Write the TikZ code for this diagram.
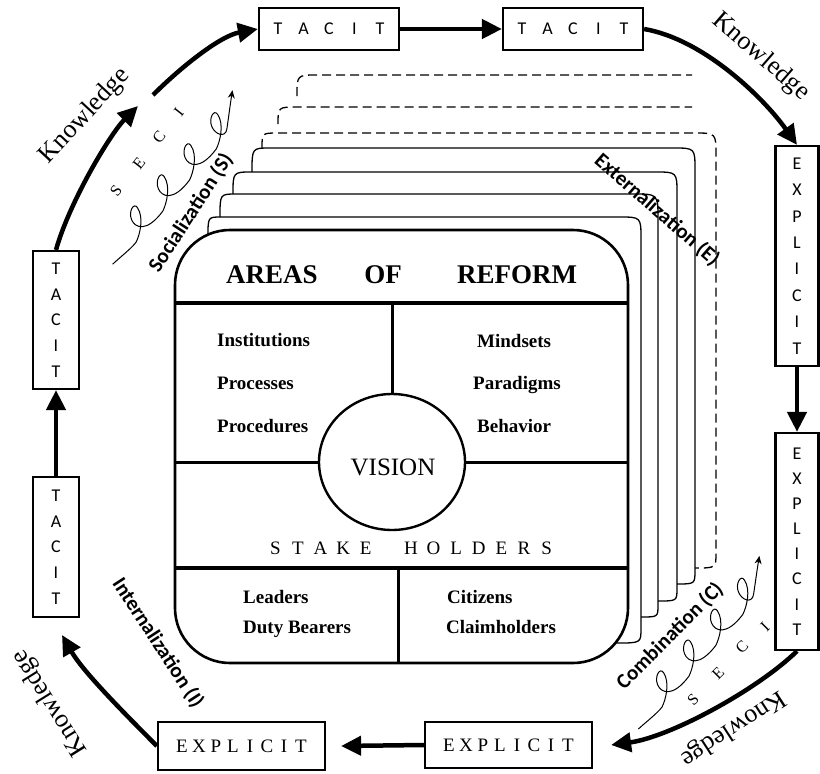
\documentclass[tikz,border=0pt]{standalone}
\usepackage{fontspec}
\setmainfont{Liberation Serif}
\newfontfamily\labelfont{Carlito}
\usetikzlibrary{arrows.meta,shapes.geometric}

% evenly spaced capitals: each letter sits in a box of fixed width
\newcommand\spacedletters[2]{\def\spacedwd{#1}\spacedloop#2\relax}
\def\spacedloop#1{\ifx#1\relax\else\makebox[\spacedwd]{#1}\expandafter\spacedloop\fi}

\tikzset{
  kbox/.style={draw, line width=2.2pt, fill=white, inner sep=0pt},
  sansletters/.style={font=\labelfont\fontsize{18}{18}\selectfont},
  vsans/.style={align=center, font=\labelfont\fontsize{18}{#1}\selectfont},
  serifletters/.style={font=\fontsize{19}{19}\selectfont},
  bigarrow/.style={line width=4.5pt, -{Triangle[length=20pt,width=19pt]}},
  card/.style={line width=1.3pt},
  ghostcard/.style={line width=1.3pt, dash pattern=on 9pt off 5pt},
  spiral/.style={line width=1pt, -{Stealth[length=8pt,width=7pt]}},
  phase/.style={font=\labelfont\bfseries\fontsize{21}{21}\selectfont, inner sep=0pt},
  know/.style={font=\fontsize{26}{26}\selectfont, inner sep=0pt},
  seci/.style={font=\fontsize{16}{16}\selectfont, inner sep=0pt},
  heading/.style={font=\bfseries\fontsize{27}{27}\selectfont, inner sep=0pt, anchor=base},
  item/.style={font=\bfseries\fontsize{19}{19}\selectfont, inner sep=0pt, anchor=base west},
  divider/.style={line width=3pt},
  heavydivider/.style={line width=4pt},
  % a thin line with four narrow curls, ending in an arrow
  coil/.pic={
    \draw[spiral] (-50,9.6) .. controls (-38,11) and (-26,13.5) .. (-18,13)
      \foreach \b in {-18,23,64} {
        .. controls ({\b+8},11) and ({\b+24},3) .. ({\b+27},-8.5)
        .. controls ({\b+29},-15) and ({\b+18},-13) .. ({\b+14},-5)
        .. controls ({\b+10},3) and ({\b+14},15) .. ({\b+41},13)
      }
      .. controls (113,11) and (129,3) .. (132,-8.5)
      .. controls (134,-15) and (123,-13) .. (119,-5)
      .. controls (115,3) and (119,13) .. (127,8)
      .. controls (135,3) and (147,-5) .. (160,-13);
  }
}

\begin{document}
\begin{tikzpicture}[x=1pt, y=-1pt]
\fill[white] (0,0) rectangle (820,774);
\useasboundingbox (0,0) rectangle (820,774);

% stack of cards behind the central panel
\draw[ghostcard] (297,96) .. controls (297,75) .. (317,75) -- (692,75);
\draw[ghostcard] (278,124) .. controls (278,107) .. (298,107) -- (692,107);
\draw[ghostcard] (262,148) .. controls (262,133) .. (278,133) -- (694,133)
  .. controls (716,133) .. (716,155) -- (716,553) .. controls (716,568) .. (695,568);
\draw[card] (252,172) .. controls (252,148) .. (270,148) -- (673,148)
  .. controls (695,148) .. (695,170) -- (695,570) .. controls (695,584) .. (677,584);
\draw[card] (233,194) .. controls (233,172) .. (252,172) -- (655,172)
  .. controls (677,172) .. (677,194) -- (677,588) .. controls (677,601) .. (658,601);
\draw[card] (220,217) .. controls (220,194) .. (236,194) -- (633,194)
  .. controls (658,194) .. (658,219) -- (658,605) .. controls (658,617) .. (641,617);
\draw[card] (208,236) .. controls (208,217) .. (221,217) -- (619,217)
  .. controls (641,217) .. (641,239) -- (641,628) .. controls (641,643) .. (617,643);

% central panel
\node[draw, line width=2.6pt, rounded corners=55pt, fill=white,
      minimum width=453pt, minimum height=433pt, inner sep=0pt] (reform) at (401.5,446.5) {};
\node[draw, ellipse, line width=2.4pt, fill=white, minimum width=146pt,
      minimum height=136pt, inner sep=0pt] (vision) at (392,462) {};
\draw[heavydivider] (175,303) -- (628,303);
\draw[divider] (392,303) -- (vision.north);
\draw[divider] (175,462) -- (vision.west);
\draw[divider] (vision.east) -- (628,462);
\draw[heavydivider] (175,568) -- (628,568);
\draw[divider] (398,568) -- (398,663);

\node[heading] (areasA) at (272,283) {AREAS};
\node[heading] (areasB) at (383,283) {OF};
\node[heading] (areasC) at (517,283) {REFORM};
\node[item] (inst) at (217,346) {Institutions};
\node[item] (proc) at (217,389) {Processes};
\node[item] (procd) at (217,432) {Procedures};
\node[item] (mind) at (477,347) {Mindsets};
\node[item] (para) at (473,389) {Paradigms};
\node[item] (behav) at (477,432) {Behavior};
\node[font=\fontsize{25}{25}\selectfont, inner sep=0pt, anchor=base] (visiontext) at (393,475) {VISION};
\node[font=\fontsize{19}{19}\selectfont, inner sep=0pt, anchor=base] (stake) at (411,554)
  {\spacedletters{22.6pt}{STAKE~HOLDERS}};
\node[item] (leaders) at (243,603) {Leaders};
\node[item] (duty) at (243,633) {Duty Bearers};
\node[item] (citizens) at (447,603) {Citizens};
\node[item] (claim) at (446,633) {Claimholders};

% knowledge boxes around the panel
\node[kbox, sansletters, minimum width=140pt, minimum height=42pt] (tacitA) at (329,29) {\spacedletters{25.5pt}{TACIT}};
\node[kbox, sansletters, minimum width=140pt, minimum height=42pt] (tacitB) at (573,29) {\spacedletters{25.5pt}{TACIT}};
\node[kbox, vsans={26.4}, minimum width=43pt, minimum height=220pt] (explA) at (797,256) {E\\X\\P\\L\\I\\C\\I\\T};
\node[kbox, vsans={25.1}, minimum width=43pt, minimum height=217pt] (explB) at (797,541.5) {E\\X\\P\\L\\I\\C\\I\\T};
\node[kbox, serifletters, minimum width=167pt, minimum height=46pt] (explC) at (508.5,745) {\spacedletters{17pt}{EXPLICIT}};
\node[kbox, serifletters, minimum width=167pt, minimum height=48pt] (explD) at (241.5,746) {\spacedletters{17pt}{EXPLICIT}};
\node[kbox, vsans={25.75}, minimum width=46pt, minimum height=140pt] (tacitC) at (56,547) {T\\A\\C\\I\\T};
\node[kbox, vsans={25.75}, minimum width=46pt, minimum height=138pt] (tacitD) at (56,320) {T\\A\\C\\I\\T};

% knowledge cycle
\coordinate (kA) at (138,106);
\coordinate (kB) at (153,95);
\coordinate (kC) at (62,635);
\draw[bigarrow] (tacitD.north) .. controls (69,203) and (110,134) .. (kA);
\draw[bigarrow] (kB) .. controls (181,67) and (220,36) .. (tacitA.west);
\draw[bigarrow] (tacitA.east) -- (tacitB.west);
\draw[bigarrow] (tacitB.east) .. controls (703,39) and (763,97) .. (explA.north);
\draw[bigarrow] (explA.south) -- (explB.north);
\draw[bigarrow] (explB.south) .. controls (757,690) and (670,737) .. ([xshift=18pt]explC.east);
\draw[bigarrow] (explC.west) -- ([xshift=15pt]explD.east);
\draw[bigarrow] (explD.west) .. controls (118,707) and (82,670) .. (kC);
\draw[bigarrow] (tacitC.north) -- (tacitD.south);

\node[know, rotate=47] (know1) at (85,116) {Knowledge};
\node[know, rotate=-41] (know2) at (761,57) {Knowledge};
\node[know, rotate=213] (know3) at (733,728) {Knowledge};
\node[know, rotate=122] (know4) at (50,703) {Knowledge};

% SECI phases
\node[phase, rotate=57] (soc) at (191,213) {Socialization (S)};
\node[phase, rotate=-41] (ext) at (657,210) {Externalization (E)};
\node[phase, rotate=45] (comb) at (670,636) {Combination (C)};
\node[phase, rotate=-57] (intl) at (158,643) {Internalization (I)};

\pic[rotate=49.3] at (138,220) {coil};
\pic[rotate=48.9] at (664,685) {coil};

\node[seci, rotate=52] (s1) at (116,191) {S};
\node[seci, rotate=52] (e1) at (139,163) {E};
\node[seci, rotate=52] (c1) at (159,137) {C};
\node[seci, rotate=52] (i1) at (179,112) {I};
\node[seci, rotate=45] (s2) at (693,700) {S};
\node[seci, rotate=45] (e2) at (718,673) {E};
\node[seci, rotate=45] (c2) at (742,647) {C};
\node[seci, rotate=45] (i2) at (765,627) {I};
\end{tikzpicture}
\end{document}
